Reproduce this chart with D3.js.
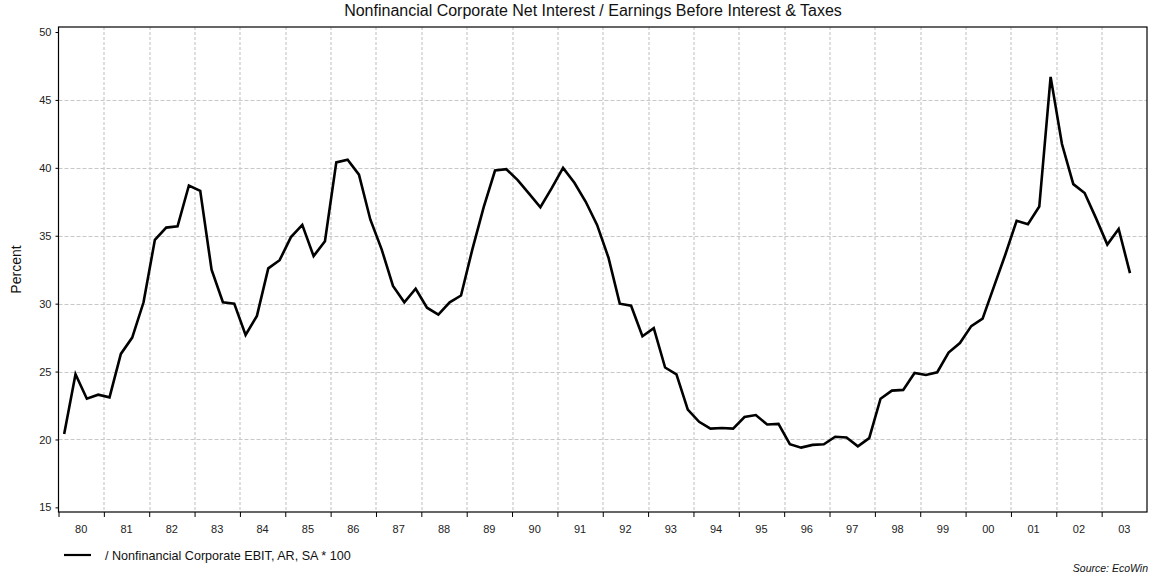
<!DOCTYPE html>
<html>
<head>
<meta charset="utf-8">
<script src="https://cdn.jsdelivr.net/npm/d3@7"></script>
<style>
  body { margin: 0; background: #fff; }
  text { font-family: Arial, "Liberation Sans", sans-serif; }
</style>
</head>
<body>
<div id="chart"></div>
<script>
(function() {

    var width = 1151,
        height = 578,
        margin = {top: 27, left: 58.5, right: 4, bottom: 66};

    // quarterly series, 1980Q1 .. 2003Q3
    var firstYear = 1980;
    var values = [
        20.4, 24.8, 23.0, 23.3,   // 80
        23.1, 26.3, 27.5, 30.1,   // 81
        34.7, 35.6, 35.7, 38.7,   // 82
        38.3, 32.5, 30.1, 30.0,   // 83
        27.7, 29.1, 32.6, 33.2,   // 84
        34.9, 35.8, 33.5, 34.6,   // 85
        40.4, 40.6, 39.5, 36.2,   // 86
        34.0, 31.3, 30.1, 31.1,   // 87
        29.7, 29.2, 30.1, 30.6,   // 88
        34.0, 37.1, 39.8, 39.9,   // 89
        39.1, 38.1, 37.1, 38.5,   // 90
        40.0, 38.9, 37.5, 35.8,   // 91
        33.4, 30.0, 29.85, 27.6,  // 92
        28.2, 25.3, 24.8, 22.2,   // 93
        21.3, 20.8, 20.85, 20.8,  // 94
        21.65, 21.8, 21.1, 21.15, // 95
        19.65, 19.4, 19.6, 19.65, // 96
        20.2, 20.15, 19.5, 20.1,  // 97
        23.0, 23.6, 23.65, 24.9,  // 98
        24.75, 24.95, 26.4, 27.1, // 99
        28.35, 28.9, 31.25, 33.6, // 00
        36.1, 35.85, 37.15, 46.7, // 01
        41.75, 38.8, 38.15, 36.3, // 02
        34.35, 35.5, 32.25        // 03
    ];
    var yearLabels = ["80","81","82","83","84","85","86","87","88","89","90","91",
                      "92","93","94","95","96","97","98","99","00","01","02","03"];
    var yTicks = [15, 20, 25, 30, 35, 40, 45, 50];
    var gridTicks = [20, 25, 30, 35, 40, 45];

    var title = "Nonfinancial Corporate Net Interest / Earnings Before Interest & Taxes",
        yLabel = "Percent",
        legendLabel = "/ Nonfinancial Corporate EBIT, AR, SA * 100",
        source = "Source: EcoWin";

    var w = width - margin.left - margin.right,
        h = height - margin.top - margin.bottom;

    var svg = d3.select("#chart")
            .append("svg")
            .attr("width", width)
            .attr("height", height);

    var g = svg.append("g")
            .attr("transform", "translate(" + margin.left + "," + margin.top + ")");

    var x = d3.scaleLinear()
              .domain([firstYear, firstYear + yearLabels.length])
              .range([0, w]);

    var y = d3.scaleLinear()
              .domain([14.66, 50.37])
              .range([h, 0]);

    // grid
    g.append("g")
     .selectAll("line")
     .data(d3.range(1, yearLabels.length))
     .enter().append("line")
       .attr("x1", function(d) { return Math.round(x(firstYear + d)) + 0.5; })
       .attr("x2", function(d) { return Math.round(x(firstYear + d)) + 0.5; })
       .attr("y1", 0)
       .attr("y2", h)
       .attr("stroke", "#bdbdbd")
       .attr("stroke-dasharray", "3,2");

    g.append("g")
     .selectAll("line")
     .data(gridTicks)
     .enter().append("line")
       .attr("x1", 0)
       .attr("x2", w)
       .attr("y1", function(d) { return Math.round(y(d)) + 0.5; })
       .attr("y2", function(d) { return Math.round(y(d)) + 0.5; })
       .attr("stroke", "#c8c8c8")
       .attr("stroke-dasharray", "4,2");

    // y axis
    var yAxis = g.append("g")
        .call(d3.axisLeft(y).tickValues(yTicks).tickSize(3).tickPadding(4));
    yAxis.select(".domain").remove();
    yAxis.selectAll("line").attr("stroke", "#000");
    yAxis.selectAll("text")
         .attr("font-size", 11)
         .attr("font-family", "Arial, 'Liberation Sans', sans-serif")
         .attr("fill", "#222");

    // x axis: ticks at year boundaries, labels in the middle of each year
    var xAxis = g.append("g")
        .attr("transform", "translate(0," + h + ")")
        .call(d3.axisBottom(x)
                .tickValues(d3.range(0, yearLabels.length).map(function(i) { return firstYear + i; }))
                .tickSize(5)
                .tickFormat(""));
    xAxis.select(".domain").remove();
    xAxis.selectAll("line").attr("stroke", "#000");

    g.append("g")
     .selectAll("text")
     .data(yearLabels)
     .enter().append("text")
       .attr("x", function(d, i) { return x(firstYear + i + 0.5); })
       .attr("y", h + 21)
       .attr("text-anchor", "middle")
       .attr("font-size", 11)
       .attr("fill", "#222")
       .text(function(d) { return d; });

    // frame
    g.append("rect")
     .attr("x", 0)
     .attr("y", 0)
     .attr("width", w)
     .attr("height", h)
     .attr("fill", "none")
     .attr("stroke", "#000")
     .attr("stroke-width", 1.2);

    // the series
    var line = d3.line()
                 .x(function(d, i) { return x(firstYear + (i + 0.5) / 4); })
                 .y(function(d) { return y(d); });

    g.append("path")
     .datum(values)
     .attr("d", line)
     .attr("fill", "none")
     .attr("stroke", "#000")
     .attr("stroke-width", 2.6)
     .attr("stroke-linejoin", "miter");

    // labels
    svg.append("text")
       .attr("x", 593)
       .attr("y", 16)
       .attr("text-anchor", "middle")
       .attr("font-size", 16)
       .attr("fill", "#111")
       .text(title);

    svg.append("text")
       .attr("transform", "translate(21," + (margin.top + h / 2) + ") rotate(-90)")
       .attr("text-anchor", "middle")
       .attr("font-size", 14)
       .attr("fill", "#111")
       .text(yLabel);

    var legend = svg.append("g")
                    .attr("transform", "translate(64,555)");
    legend.append("line")
          .attr("x1", 0)
          .attr("x2", 27)
          .attr("stroke", "#000")
          .attr("stroke-width", 2.2);
    legend.append("text")
          .attr("x", 41)
          .attr("y", 4.5)
          .attr("font-size", 12.6)
          .attr("fill", "#111")
          .text(legendLabel);

    svg.append("text")
       .attr("x", 1148)
       .attr("y", 572)
       .attr("text-anchor", "end")
       .attr("font-size", 10.5)
       .attr("font-style", "italic")
       .attr("fill", "#111")
       .text(source);

})();
</script>
</body>
</html>
